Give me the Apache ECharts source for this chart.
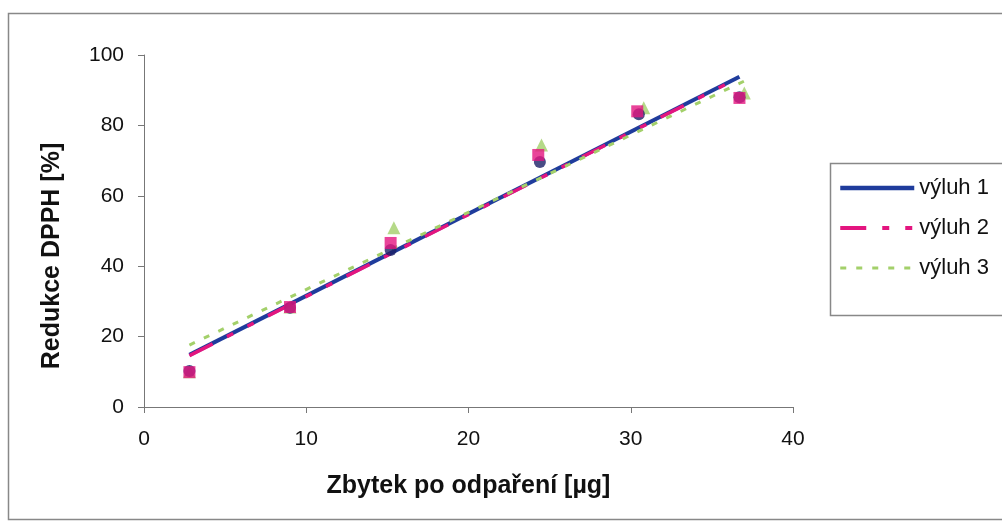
<!DOCTYPE html>
<html>
<head>
<meta charset="utf-8">
<script src="https://cdn.jsdelivr.net/npm/echarts@6/dist/echarts.min.js"></script>
<style>
  html, body { margin: 0; padding: 0; background: #fff; }
  #chart { width: 1002px; height: 525px; }
</style>
</head>
<body>
<div id="chart"></div>
<script>
// Measured points for the three extracts
const seriesNames = ['výluh 1', 'výluh 2', 'výluh 3'];
const x1 = [2.8, 9.0, 15.2, 24.4, 30.5, 36.7];
const y1 = [10.2, 28.2, 44.6, 69.6, 83.2, 88.0];
const x2 = [2.8, 9.0, 15.2, 24.3, 30.4, 36.7];
const y2 = [9.9, 28.4, 46.6, 71.6, 84.0, 87.8];
const x3 = [2.8, 9.0, 15.4, 24.5, 30.8, 37.0];
const y3 = [10.0, 28.4, 50.9, 74.4, 85.0, 89.2];

// Linear trend lines (start and end points)
const trendX1 = [2.8, 36.7];
const trendY1 = [14.8, 93.8];
const trendX2 = [2.8, 36.6];
const trendY2 = [14.6, 93.4];
const trendX3 = [2.8, 37.0];
const trendY3 = [17.6, 92.6];

// Axis ticks
const xTicks = [0, 10, 20, 30, 40];
const yTicks = [0, 20, 40, 60, 80, 100];

const xTitle = 'Zbytek po odpaření [µg]';
const yTitle = 'Redukce DPPH [%]';

const pairs = (xs, ys) => xs.map((v, i) => [v, ys[i]]);

const colors = {
  blue: '#1f3c9c',
  navy: '#1b1f66',
  magenta: '#e3157f',
  green: '#a3d06a'
};

const chart = echarts.init(document.getElementById('chart'), null, { renderer: 'canvas' });

const font = 'Liberation Sans, Arial, Helvetica, sans-serif';
const axisFont = { fontFamily: font, fontSize: 21, color: '#111' };

chart.setOption({
  backgroundColor: '#fff',
  animation: false,
  grid: { left: 144, right: 209, top: 55, bottom: 118 },
  xAxis: {
    type: 'value',
    min: xTicks[0],
    max: xTicks[xTicks.length - 1],
    interval: 10,
    name: xTitle,
    nameLocation: 'middle',
    nameGap: 67,
    nameTextStyle: { fontFamily: font, fontSize: 25, fontWeight: 'bold', color: '#111' },
    axisLine: { lineStyle: { color: '#777', width: 1 } },
    axisTick: { show: true, inside: false, length: 6, lineStyle: { color: '#777' } },
    axisLabel: Object.assign({ margin: 22 }, axisFont),
    splitLine: { show: false }
  },
  yAxis: {
    type: 'value',
    min: yTicks[0],
    max: yTicks[yTicks.length - 1],
    interval: 20,
    axisLine: { show: true, lineStyle: { color: '#777', width: 1 } },
    axisTick: { show: true, inside: false, length: 6, lineStyle: { color: '#777' } },
    axisLabel: Object.assign({ margin: 20 }, axisFont),
    splitLine: { show: false }
  },
  legend: {
    data: [
      { name: seriesNames[0], lineStyle: { width: 4.5 } },
      { name: seriesNames[1], lineStyle: { width: 4 } },
      { name: seriesNames[2], lineStyle: { width: 3 } }
    ],
    orient: 'vertical',
    left: 838,
    top: 177,
    itemWidth: 74,
    itemHeight: 22,
    itemGap: 18,
    padding: 0,
    itemStyle: { opacity: 0 },
    textStyle: { fontFamily: font, fontSize: 22, color: '#111' }
  },
  graphic: [
    {
      type: 'rect',
      shape: { x: 8.5, y: 13.5, width: 1000, height: 506 },
      style: { fill: 'none', stroke: '#888', lineWidth: 1.5 },
      silent: true
    },
    {
      type: 'rect',
      shape: { x: 830.5, y: 163.5, width: 180, height: 152 },
      style: { fill: 'none', stroke: '#888', lineWidth: 1.5 },
      silent: true
    },
    {
      type: 'text',
      x: 52,
      y: 256,
      rotation: Math.PI / 2,
      style: {
        text: yTitle,
        fontFamily: font,
        fontSize: 25,
        fontWeight: 'bold',
        fill: '#111',
        textAlign: 'center',
        textVerticalAlign: 'middle'
      },
      silent: true
    }
  ],
  series: [
    {
      name: seriesNames[0],
      type: 'line',
      data: pairs(trendX1, trendY1),
      showSymbol: false,
      symbol: 'none',
      lineStyle: { color: colors.blue, width: 4 },
      itemStyle: { color: colors.blue },
      z: 3
    },
    {
      name: seriesNames[1],
      type: 'line',
      data: pairs(trendX2, trendY2),
      showSymbol: false,
      symbol: 'none',
      lineStyle: { color: colors.magenta, width: 3.5, type: [26, 16, 7, 16, 7, 16] },
      itemStyle: { color: colors.magenta },
      z: 4
    },
    {
      name: seriesNames[2],
      type: 'line',
      data: pairs(trendX3, trendY3),
      showSymbol: false,
      symbol: 'none',
      lineStyle: { color: colors.green, width: 3, type: [6, 10] },
      itemStyle: { color: colors.green },
      z: 4
    },
    {
      name: 'body 3',
      type: 'scatter',
      data: pairs(x3, y3),
      symbol: 'triangle',
      symbolSize: 13,
      itemStyle: { color: colors.green },
      z: 5
    },
    {
      name: 'body 1',
      type: 'scatter',
      data: pairs(x1, y1),
      symbol: 'circle',
      symbolSize: 12,
      itemStyle: { color: colors.navy },
      z: 6
    },
    {
      name: 'body 2',
      type: 'scatter',
      data: pairs(x2, y2),
      symbol: 'rect',
      symbolSize: 12,
      itemStyle: { color: colors.magenta },
      z: 7
    }
  ]
});
</script>
</body>
</html>
